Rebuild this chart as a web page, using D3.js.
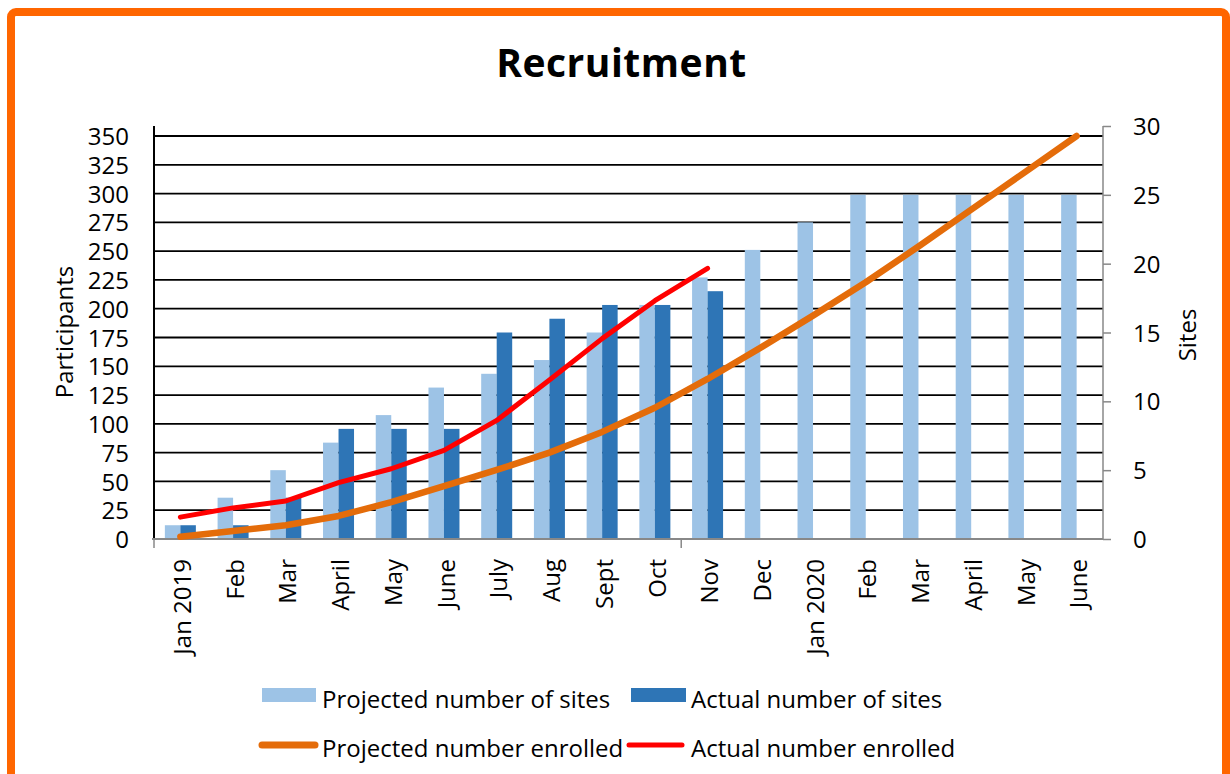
<!DOCTYPE html>
<html>
<head>
<meta charset="utf-8">
<script src="https://cdn.jsdelivr.net/npm/d3@7"></script>
<style>
  html, body { margin: 0; padding: 0; background: #fff; }
  svg { display: block; }
  text { font-family: "Open Sans", "Liberation Sans", sans-serif; fill: #000; }
</style>
</head>
<body>
<svg id="chart" width="1230" height="774"></svg>
<script>
// ---- data ----
const categories = ["Jan 2019","Feb","Mar","April","May","June","July","Aug","Sept","Oct","Nov","Dec","Jan 2020","Feb","Mar","April","May","June"];
const projectedSites = [1,3,5,7,9,11,12,13,15,17,19,21,23,25,25,25,25,25];
const actualSites = [1,1,3,8,8,8,15,16,17,17,18];
const projectedEnrolled = [2,7,12,20,32,46,60,75,93,114,139,166,194,223,254,286,318,350];
const actualEnrolled = [19,27,33,49,61,77,103,138,174,207,235];
const leftTicks = [0,25,50,75,100,125,150,175,200,225,250,275,300,325,350];
const rightTicks = [0,5,10,15,20,25,30];
const seriesNames = ["Projected number of sites","Actual number of sites","Projected number enrolled","Actual number enrolled"];
const colors = {projSites:"#9DC3E6", actSites:"#2E75B6", projEnr:"#E46C0A", actEnr:"#FF0000", frame:"#FF6600"};

// ---- layout ----
const svg = d3.select("#chart");
const plot = {left:154, right:1103, top:126, bottom:539};

// frame
svg.append("rect").attr("x",11).attr("y",12).attr("width",1215).attr("height",800)
  .attr("rx",5).attr("fill","#fff").attr("stroke",colors.frame).attr("stroke-width",8);

// title
svg.append("text").attr("x",621.5).attr("y",77).attr("text-anchor","middle")
  .style("font-size","39px").style("font-weight","bold").style("letter-spacing","0.5px").text("Recruitment");

// scales
const idx = categories.map((d,i)=>i);
const x = d3.scaleBand().domain(idx).range([plot.left, plot.right]).paddingInner(0.412).paddingOuter(0.206);
const x1 = d3.scaleBand().domain([0,1]).range([0, x.bandwidth()]);
const yL = d3.scaleLinear().domain([0,350]).range([plot.bottom, 136]);
const yR = d3.scaleLinear().domain([0,30]).range([plot.bottom, plot.top]);
const cx = i => x(i) + x.bandwidth()/2;

// gridlines
svg.append("g").selectAll("line").data(leftTicks.filter(d=>d>0)).join("line")
  .attr("x1",plot.left).attr("x2",plot.right)
  .attr("y1",d=>yL(d)).attr("y2",d=>yL(d))
  .attr("stroke","#000").attr("stroke-width",1.8);

// bars
svg.append("g").selectAll("rect").data(projectedSites).join("rect")
  .attr("x",(d,i)=>x(i)+x1(0)).attr("width",x1.bandwidth())
  .attr("y",d=>yR(d)).attr("height",d=>plot.bottom-yR(d)).attr("fill",colors.projSites);
svg.append("g").selectAll("rect").data(actualSites).join("rect")
  .attr("x",(d,i)=>x(i)+x1(1)).attr("width",x1.bandwidth())
  .attr("y",d=>yR(d)).attr("height",d=>plot.bottom-yR(d)).attr("fill",colors.actSites);

// left axis
const leftAxis = svg.append("g").attr("transform",`translate(${plot.left},0)`)
  .call(d3.axisLeft(yL).tickValues(leftTicks).tickSize(0).tickPadding(25));
leftAxis.select(".domain").remove();
leftAxis.selectAll("text").style("font-size","24px").style("font-family","'Open Sans'").attr("dy","0.36em");
svg.append("line").attr("x1",plot.left).attr("x2",plot.left).attr("y1",plot.top).attr("y2",plot.bottom)
  .attr("stroke","#000").attr("stroke-width",2);

// right axis
const rightAxis = svg.append("g").attr("transform",`translate(${plot.right},0)`)
  .call(d3.axisRight(yR).tickValues(rightTicks).tickSize(8).tickPadding(22));
rightAxis.select(".domain").attr("stroke","#888").attr("stroke-width",1.5).attr("d",`M0,${plot.top}V${plot.bottom}`);
rightAxis.selectAll(".tick line").attr("stroke","#888").attr("stroke-width",1.5);
rightAxis.selectAll("text").style("font-size","24px").style("font-family","'Open Sans'").attr("dy","0.36em");

// bottom axis
svg.append("line").attr("x1",plot.left-2).attr("x2",plot.right).attr("y1",plot.bottom).attr("y2",plot.bottom)
  .attr("stroke","#888").attr("stroke-width",2);
svg.append("g").selectAll("line").data([0,10]).join("line")
  .attr("x1",d=>x(d)-x.step()*x.paddingInner()/2).attr("x2",d=>x(d)-x.step()*x.paddingInner()/2)
  .attr("y1",plot.bottom).attr("y2",plot.bottom+9).attr("stroke","#888").attr("stroke-width",1.5);
svg.append("g").selectAll("text").data(categories).join("text")
  .attr("transform",(d,i)=>`translate(${cx(i)+2},559) rotate(-90)`)
  .attr("text-anchor","end").attr("dy","0.36em")
  .style("font-size","24px").text(d=>d);

// lines
const lineL = d3.line().x((d,i)=>cx(i)).y(d=>yL(d));
svg.append("path").datum(projectedEnrolled).attr("d",lineL).attr("fill","none")
  .attr("stroke",colors.projEnr).attr("stroke-width",6.5).attr("stroke-linecap","round").attr("stroke-linejoin","round");
svg.append("path").datum(actualEnrolled).attr("d",lineL).attr("fill","none")
  .attr("stroke",colors.actEnr).attr("stroke-width",5).attr("stroke-linecap","round").attr("stroke-linejoin","round");

// axis titles
svg.append("text").attr("transform","translate(64,332) rotate(-90)").attr("text-anchor","middle")
  .attr("dy","0.36em").style("font-size","24px").text("Participants");
svg.append("text").attr("transform","translate(1187,335) rotate(-90)").attr("text-anchor","middle")
  .attr("dy","0.36em").style("font-size","24px").text("Sites");

// legend
const leg = svg.append("g");
leg.append("rect").attr("x",262).attr("y",688).attr("width",54).attr("height",14).attr("fill",colors.projSites);
leg.append("rect").attr("x",631).attr("y",688).attr("width",55).attr("height",14).attr("fill",colors.actSites);
leg.append("line").attr("x1",262).attr("x2",315).attr("y1",745).attr("y2",745)
  .attr("stroke",colors.projEnr).attr("stroke-width",7).attr("stroke-linecap","round");
leg.append("line").attr("x1",629).attr("x2",682).attr("y1",745).attr("y2",745)
  .attr("stroke",colors.actEnr).attr("stroke-width",5).attr("stroke-linecap","round");
const legPos = [[322,708],[691,708],[322,757],[691,757]];
leg.selectAll("text.l").data(seriesNames).join("text").attr("class","l")
  .attr("x",(d,i)=>legPos[i][0]).attr("y",(d,i)=>legPos[i][1])
  .style("font-size","24px").text(d=>d);
</script>
</body>
</html>
